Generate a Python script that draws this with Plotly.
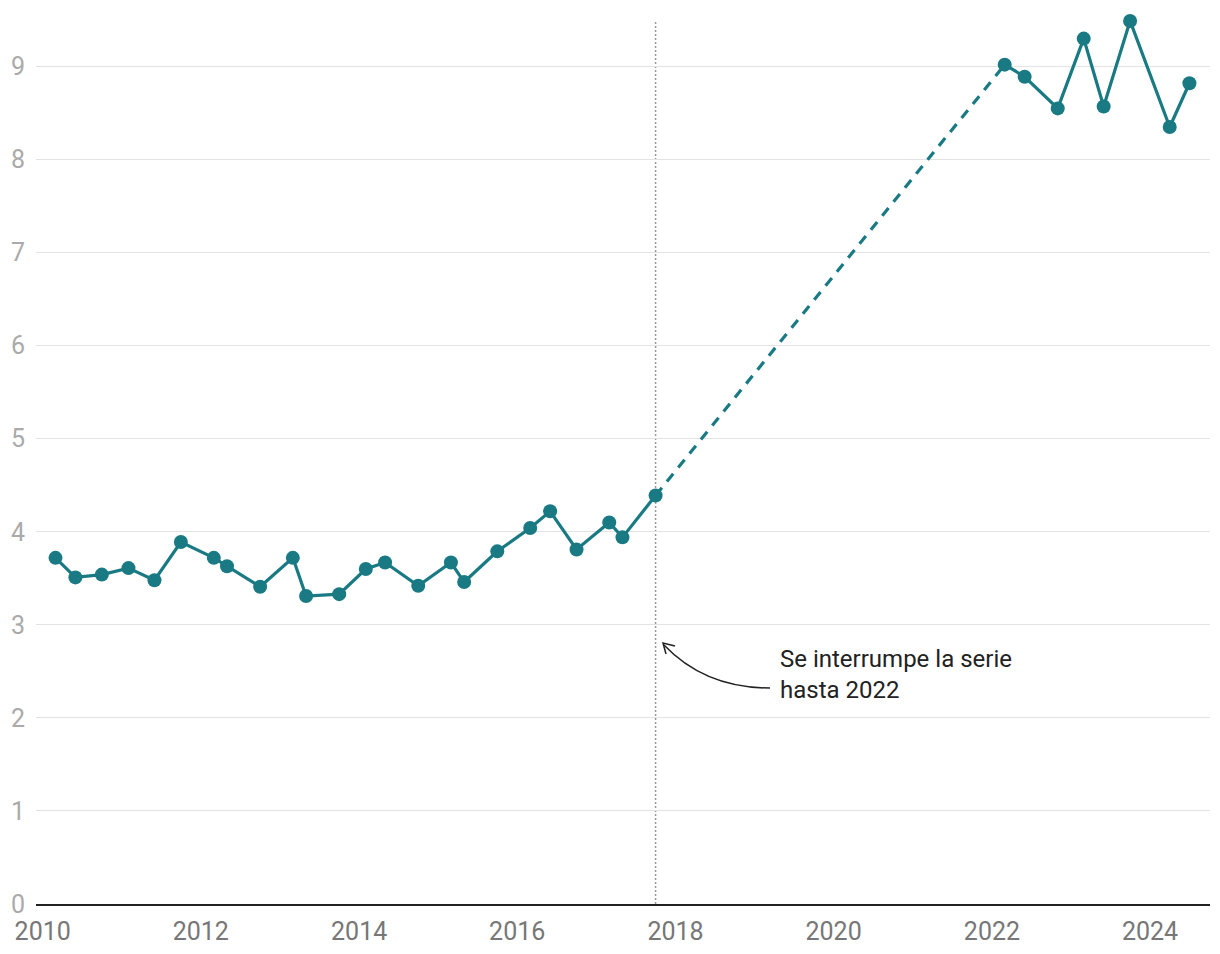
import plotly.graph_objects as go

# serie hasta 2017 y desde 2022
fechas_a = ["2010-03-01", "2010-06-01", "2010-10-01", "2011-02-01", "2011-06-01", "2011-10-01",
            "2012-03-01", "2012-05-01", "2012-10-01", "2013-03-01", "2013-05-01", "2013-10-01",
            "2014-02-01", "2014-05-01", "2014-10-01", "2015-03-01", "2015-05-01", "2015-10-01",
            "2016-03-01", "2016-06-01", "2016-10-01", "2017-03-01", "2017-05-01", "2017-10-01"]
valores_a = [3.72, 3.51, 3.54, 3.61, 3.48, 3.89, 3.72, 3.63, 3.41, 3.72, 3.31, 3.33,
             3.60, 3.67, 3.42, 3.67, 3.46, 3.79, 4.04, 4.22, 3.81, 4.10, 3.94, 4.39]

fechas_b = ["2022-03-01", "2022-06-01", "2022-11-01", "2023-03-01", "2023-06-01",
            "2023-10-01", "2024-04-01", "2024-07-01"]
valores_b = [9.02, 8.89, 8.55, 9.30, 8.57, 9.49, 8.35, 8.82]

y_ticks = [0, 1, 2, 3, 4, 5, 6, 7, 8, 9]
x_ticks = ["2010-01-01", "2012-01-01", "2014-01-01", "2016-01-01",
           "2018-01-01", "2020-01-01", "2022-01-01", "2024-01-01"]
x_labels = ["2010", "2012", "2014", "2016", "2018", "2020", "2022", "2024"]

nota = "Se interrumpe la serie<br>hasta 2022"

TEAL = "#197a83"
W, H = 1220, 954
ML, MR, MT, MB = 28, 18, 12, 58
PW, PH = W - ML - MR, H - MT - MB
BODY = 8  # page margin of the html body


def px(x, y):
    # screen pixel -> paper coords, for the hand drawn arrow
    return f"{(x - BODY - ML) / PW:.5f},{(BODY + MT + PH - y) / PH:.5f}"


fig = go.Figure()

# tramo discontinuo entre 2017 y 2022
fig.add_trace(go.Scatter(x=[fechas_a[-1], fechas_b[0]], y=[valores_a[-1], valores_b[0]],
                         mode="lines", line=dict(color=TEAL, width=3.2, dash="10px,8px"),
                         hoverinfo="skip"))
fig.add_trace(go.Scatter(x=fechas_a, y=valores_a, mode="lines+markers",
                         line=dict(color=TEAL, width=3.2),
                         marker=dict(color=TEAL, size=14), cliponaxis=False))
fig.add_trace(go.Scatter(x=fechas_b, y=valores_b, mode="lines+markers",
                         line=dict(color=TEAL, width=3.2),
                         marker=dict(color=TEAL, size=14), cliponaxis=False))

# linea vertical punteada
fig.add_shape(type="line", x0=fechas_a[-1], x1=fechas_a[-1], y0=0, y1=1,
              xref="x", yref="paper", line=dict(color="#999999", width=1.5, dash="2px,2px"),
              layer="below")

# flecha curva
fig.add_shape(type="path", xref="paper", yref="paper",
              path=f"M {px(770, 688)} Q {px(705, 688)} {px(664, 645)}",
              line=dict(color="#222222", width=1.5))
fig.add_shape(type="path", xref="paper", yref="paper",
              path=f"M {px(675, 646)} L {px(663, 643)} L {px(666, 654)}",
              line=dict(color="#222222", width=1.5))

fig.add_annotation(x="2019-04-19", y=2.47, text=nota, showarrow=False,
                   xanchor="left", yanchor="middle", align="left",
                   font=dict(family="Roboto", size=24, color="#222222"))

fig.update_layout(
    width=W, height=H,
    margin=dict(l=ML, r=MR, t=MT, b=MB),
    plot_bgcolor="white", paper_bgcolor="white",
    showlegend=False, hovermode=False,
    font=dict(family="Roboto"),
)
fig.update_xaxes(range=["2009-12-01", "2024-10-04"], tickvals=x_ticks, ticktext=x_labels,
                 showgrid=False, zeroline=False, showline=True, linecolor="#222222",
                 linewidth=2, ticks="", automargin=False, ticklabelstandoff=4,
                 tickfont=dict(size=25, color="#777777"))
fig.update_yaxes(range=[0, 9.5], tickvals=y_ticks, showgrid=True, gridcolor="#e3e3e3",
                 gridwidth=1, zeroline=False, ticks="", ticklabelstandoff=10,
                 automargin=False, tickfont=dict(size=25, color="#aaaaaa"))

fig.write_html("out.html", config={"displayModeBar": False})
